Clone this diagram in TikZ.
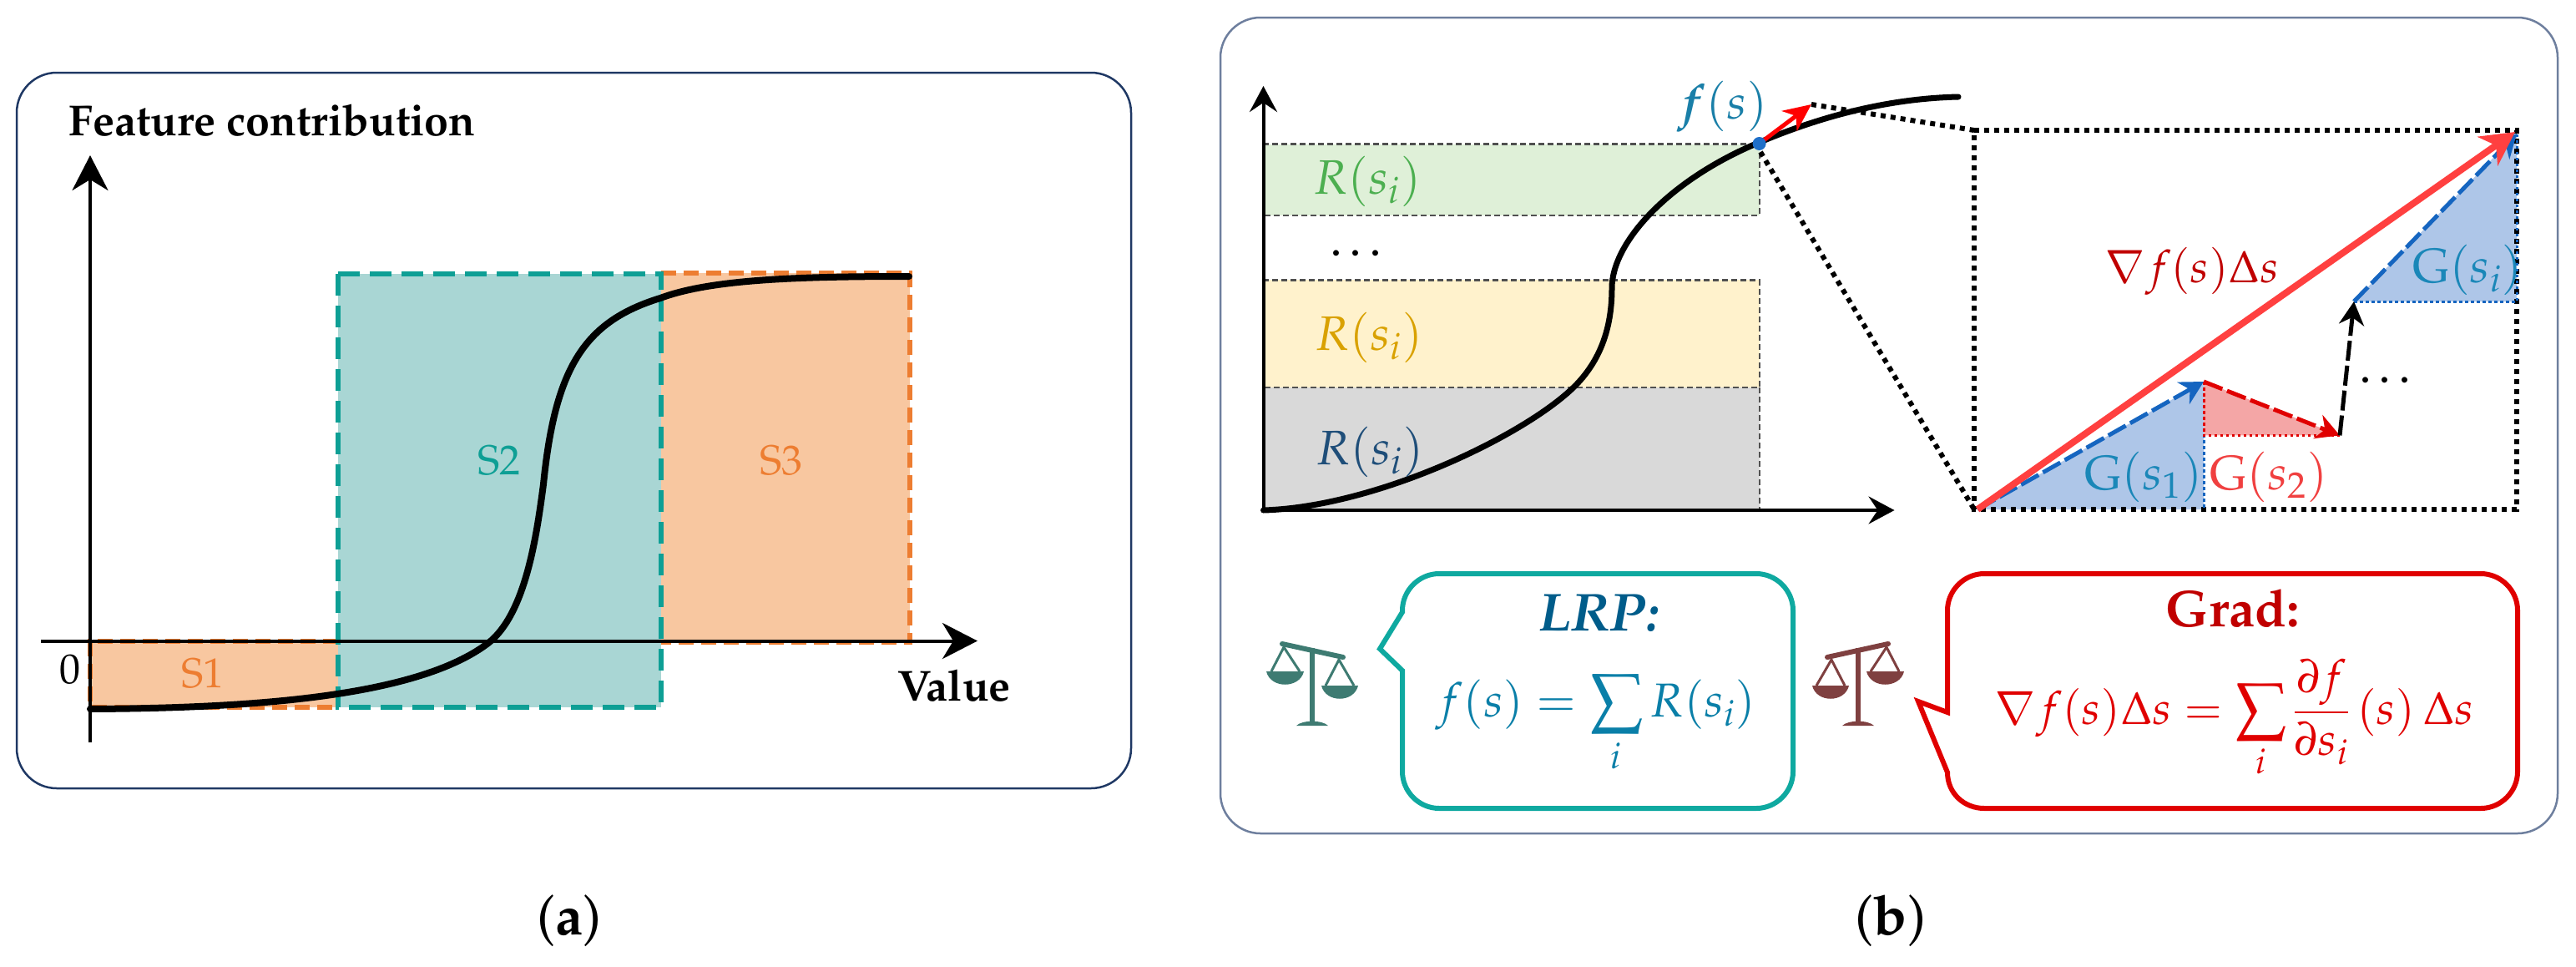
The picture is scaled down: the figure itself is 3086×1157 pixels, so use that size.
\documentclass[tikz,border=0pt]{standalone}
\usepackage[T1]{fontenc}
\usepackage{mathpazo}
\usetikzlibrary{arrows.meta}
\newcommand\fsz[1]{\fontsize{#1pt}{#1pt}\selectfont}
\definecolor{navy}{HTML}{1F3864}
\definecolor{slateb}{HTML}{6E7F9E}
\definecolor{orangeL}{HTML}{ED7D31}
\definecolor{orangeF}{HTML}{F8C7A0}
\definecolor{tealL}{HTML}{0E9F95}
\definecolor{tealF}{HTML}{A9D6D4}
\definecolor{gfill}{HTML}{DFF0D8}
\definecolor{yfill}{HTML}{FFF2CC}
\definecolor{kfill}{HTML}{D9D9D9}
\definecolor{dashk}{HTML}{505050}
\definecolor{gtext}{HTML}{4CAF50}
\definecolor{ytext}{HTML}{D9A100}
\definecolor{btext}{HTML}{1F4E79}
\definecolor{ftext}{HTML}{1A7FA8}
\definecolor{dotb}{HTML}{1F6FC8}
\definecolor{redA}{HTML}{FF4040}
\definecolor{redT}{HTML}{C00000}
\definecolor{redB}{HTML}{E00000}
\definecolor{bluA}{HTML}{1565C0}
\definecolor{bluF}{HTML}{AEC6E8}
\definecolor{redF}{HTML}{F4A6A6}
\definecolor{gblue}{HTML}{1A87B8}
\definecolor{gred}{HTML}{F04040}
\definecolor{lrpbox}{HTML}{0FA9A0}
\definecolor{lrpT}{HTML}{005C8A}
\definecolor{lrpF}{HTML}{0A7FA8}
\definecolor{scT}{HTML}{3E7B72}
\definecolor{scR}{HTML}{7F4040}
\tikzset{
  x=1pt,y=-1pt,
  lab/.style={inner sep=0pt,outer sep=0pt},
  panelbox/.style={line width=2.5pt,rounded corners=48pt},
  odash/.style={line width=6pt,dash pattern=on 18pt off 9pt},
  tdash/.style={line width=6.5pt,dash pattern=on 26pt off 12pt},
  axA/.style={line width=4pt,-{Stealth[length=42pt,width=43pt,inset=13pt]}},
  axB/.style={line width=4pt,-{Stealth[length=31pt,width=33pt,inset=11pt]}},
  thindash/.style={draw=dashk,line width=2.2pt,dash pattern=on 7pt off 4pt},
  bigdots/.style={black,line width=6pt,dash pattern=on 6pt off 6pt},
  cdotsb/.style={line width=3pt,dash pattern=on 3.5pt off 3.5pt},
  vec/.style={line width=5pt,dash pattern=on 24pt off 6pt,
     -{Stealth[length=28pt,width=30pt,inset=9pt,sep=0pt]}},
  callout/.style={line width=6pt,line join=miter},
  curve/.style={black,line cap=round},
}
\newcommand\scalesicon{%
  \draw[line width=6pt] (0,5) -- (0,94);
  \fill (-19,98) .. controls (-12,91) and (12,91) .. (19,98) -- cycle;
  \draw[line width=6pt,line cap=round] (-36,0) -- (37,16);
  \draw[line width=3pt] (-49,33) -- (-34,4) -- (-15,33);
  \draw[line width=3pt] (16,50) -- (32,19) -- (50,50);
  \fill (-55,33) .. controls (-50,54) and (-15,54) .. (-10,33) -- cycle;
  \fill (11,50) .. controls (16,71) and (50,71) .. (55,50) -- cycle;
}
\begin{document}
\begin{tikzpicture}
\useasboundingbox (0,0) rectangle (3086,1157);
% ---------- panel a
\draw[navy,panelbox] (20,87) rectangle (1355,944);
\fill[orangeF] (108,768) rectangle (405,847);
\fill[orangeF] (792,327) rectangle (1090,769);
\fill[tealF] (405,328) rectangle (792,847);
\draw[orangeL,odash] (405,768) -- (108,768) -- (108,847) -- (405,847);
\draw[orangeL,odash] (792,327) -- (1090,327) -- (1090,769) -- (792,769);
\draw[tealL,tdash] (405,328) rectangle (792,847);
\coordinate (ya0) at (108,889);
\coordinate (ya1) at (108,186);
\coordinate (xa0) at (49,767.5);
\coordinate (xa1) at (1171,767.5);
\draw[axA] (ya0) -- (ya1);
\draw[axA] (xa0) -- (xa1);
\draw[curve,line width=8pt] (108,849) .. controls (300,848) and (500,835) .. (585,770) .. controls (630,735) and (643,640) .. (651,580) .. controls (665,440) and (700,385) .. (791,357) .. controls (850,335) and (950,331) .. (1089,331);
\node[lab] (t1) at (326,144) {\fsz{52}\bfseries Feature contribution};
\node[lab] (t2) at (1143,821) {\fsz{52}\bfseries Value};
\node[lab] (t0) at (84,802) {\fsz{50}0};
\node[lab,text=orangeL] (s1) at (243,807) {\fsz{50}S1};
\node[lab,text=tealL] (s2) at (598,552) {\fsz{50}S2};
\node[lab,text=orangeL] (s3) at (936,552) {\fsz{50}S3};
\node[lab] (capa) at (682,1103) {\fsz{66}(\textbf{a})};
% ---------- panel b
\draw[slateb,panelbox] (1462,21) rectangle (3064,998);
\fill[gfill] (1513,172.5) rectangle (2107.6,257.6);
\fill[yfill] (1513,335.4) rectangle (2107.6,464);
\fill[kfill] (1513,464) rectangle (2107.6,611);
\draw[thindash] (1513,172.5) -- (2107.6,172.5) -- (2107.6,257.6) -- (1513,257.6);
\draw[thindash] (1513,335.4) -- (2107.6,335.4) -- (2107.6,464) -- (1513,464);
\draw[thindash] (2107.6,464) -- (2107.6,611);
\coordinate (yb0) at (1513.5,613);
\coordinate (yb1) at (1513.5,103);
\coordinate (xb0) at (1511,611);
\coordinate (xb1) at (2269.5,611);
\draw[axB] (yb0) -- (yb1);
\draw[axB] (xb0) -- (xb1);
\draw[curve,line width=7pt] (1513.5,611) .. controls (1650,607) and (1830,520) .. (1888,461) .. controls (1916,432) and (1931,395) .. (1931,345) .. controls (1931,290) and (2000,215) .. (2107.6,170.5) .. controls (2180,140) and (2260,118) .. (2346,116);
\coordinate (dotc) at (2107.6,172);
\coordinate (redtip) at (2170,125);
\coordinate (sqTL) at (2365,156);
\coordinate (sqTR) at (3015,156);
\coordinate (sqBR) at (3015,610);
\coordinate (sqBL) at (2365,610);
\draw[bigdots] (2109,182) -- (sqBL);
\draw[bigdots] (redtip) -- (sqTL);
\node[lab,text=gtext] (r1) at (1638,217) {\fsz{58}$R(s_i)$};
\node[lab,text=ytext] (r2) at (1640,404) {\fsz{58}$R(s_i)$};
\node[lab,text=btext] (r3) at (1641,541) {\fsz{58}$R(s_i)$};
\node[lab] (d1) at (1629,303) {\fsz{60}\ldots};
\node[lab,text=ftext] (fs) at (2063,128) {\fsz{58}{\boldmath$f$}$(s)$};
% triangles
\coordinate (p0) at (2369,610);
\coordinate (p1) at (2640,457);
\coordinate (p2) at (2803,521.4);
\coordinate (p3) at (2820,361);
\coordinate (p4) at (3015,160);
\fill[bluF] (p0) -- (p1) -- (2640,610) -- cycle;
\fill[redF] (p1) -- (p2) -- (2640,521.4) -- cycle;
\fill[bluF] (p3) -- (p4) -- (3015,361) -- cycle;
\draw[bigdots] (sqTL) -- (sqTR) -- (sqBR) -- (sqBL) -- cycle;
\draw[cdotsb,bluA] (p1) -- (2640,610);
\draw[cdotsb,redB] (2640,457) -- (2640,521.4) -- (p2);
\draw[cdotsb,bluA] (p3) -- (3015,361) -- (p4);
\draw[vec,bluA] (p0) -- (p1);
\draw[vec,redB] (p1) -- (p2);
\draw[vec,black] (p2) -- (p3);
\draw[vec,bluA] (p3) -- (p4);
\draw[redA,line width=8pt,-{Stealth[length=40pt,width=42pt,inset=12pt]}] (p0) -- (3013,158);
\draw[red,line width=5pt,-{Stealth[length=33pt,width=30pt,inset=10pt]}] (dotc) -- (redtip);
\fill[dotb] (dotc) circle (8pt);
\node[lab,text=redT] (grad) at (2626,325) {\fsz{54}$\nabla f(s)\Delta s$};
\node[lab,text=gblue] (g1) at (2568,571) {\fsz{58}$\mathrm{G}(s_1)$};
\node[lab,text=gred] (g2) at (2718,571) {\fsz{58}$\mathrm{G}(s_2)$};
\node[lab,text=gblue] (gi) at (2956,323) {\fsz{58}$\mathrm{G}(s_i)$};
\node[lab] (d2) at (2862,455) {\fsz{60}\ldots};
% callouts
\draw[lrpbox,callout] (1680,803) -- (1680,924) .. controls (1680,948) and (1700,968) .. (1724,968) -- (2104,968) .. controls (2128,968) and (2148,948) .. (2148,924) -- (2148,731) .. controls (2148,707) and (2128,687) .. (2104,687) -- (1724,687) .. controls (1700,687) and (1680,707) .. (1680,731) -- (1680,733) -- (1653,777) -- cycle;
\draw[redB,callout] (2333,925) .. controls (2333,950) and (2353,968) .. (2377,968) -- (2972,968) .. controls (2996,968) and (3016,948) .. (3016,924) -- (3016,731) .. controls (3016,707) and (2996,687) .. (2972,687) -- (2377,687) .. controls (2353,687) and (2333,707) .. (2333,731) -- (2333,853) -- (2298,840) -- cycle;
\node[lab,text=lrpT] (lrp) at (1915,734) {\fsz{64}\bfseries\itshape LRP:};
\node[lab,text=redT] (gr) at (2675,728) {\fsz{62}\bfseries Grad:};
\node[lab,anchor=base,text=lrpF] (flrp) at (1912,858) {\fsz{57}$\displaystyle f(s)=\sum_i R(s_i)$};
\node[lab,anchor=base,text=redB] (fgrad) at (2677,867) {\fsz{55}$\displaystyle \nabla f(s)\Delta s=\sum_i\frac{\partial f}{\partial s_i}\left(s\right)\Delta s$};
% scales
\begin{scope}[shift={(1572,771)},color=scT]\scalesicon\end{scope}
\begin{scope}[shift={(2226,771)},xscale=-1,color=scR]\scalesicon\end{scope}
\node[lab] (capb) at (2265,1103) {\fsz{66}(\textbf{b})};
\end{tikzpicture}
\end{document}
